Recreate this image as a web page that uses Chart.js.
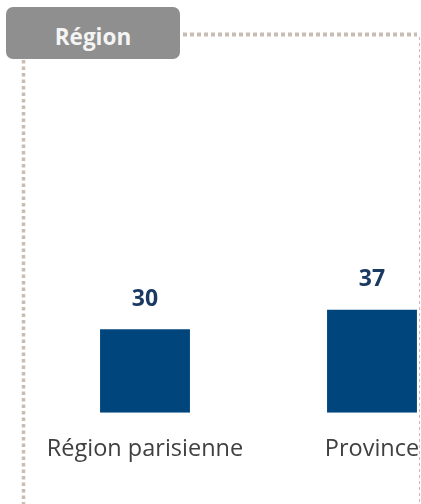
<!DOCTYPE html>
<html>
<head>
<meta charset="utf-8">
<script src="https://cdn.jsdelivr.net/npm/chart.js@4/dist/chart.umd.min.js"></script>
<style>
  html, body { margin: 0; padding: 0; background: #ffffff; }
  #wrap { position: relative; width: 421px; height: 504px; overflow: hidden; }
  #chartBox { position: absolute; left: 0; top: 0; width: 500px; height: 504px; }
  #frame { position: absolute; left: 0; top: 0; }
  #header {
    position: absolute; left: 6px; top: 7px; width: 174px; height: 52px;
    background: #8f8f8f; border-radius: 7px; overflow: hidden;
    color: #f4f4f4; font-family: "Open Sans", sans-serif; font-weight: bold;
    font-size: 22.5px; line-height: 59px; text-align: center;
  }
</style>
</head>
<body>
<div id="wrap">
  <div id="chartBox"><canvas id="c" width="500" height="504"></canvas></div>
  <svg id="frame" width="421" height="504">
    <line x1="183" y1="34.5" x2="417" y2="34.5" stroke="#c8bcb3" stroke-width="4" stroke-dasharray="4 3"/>
    <line x1="419.5" y1="37" x2="419.5" y2="504" stroke="#c8bcb3" stroke-width="1" stroke-dasharray="3 3"/>
    <line x1="23.5" y1="60" x2="23.5" y2="504" stroke="#c8bcb3" stroke-width="3.5" stroke-dasharray="3.5 3"/>
  </svg>
  <div id="header">Région</div>
</div>
<script>
const categories = ["Région parisienne", "Province"];
const values = [30, 37];
const yMin = 0;
const yMax = 100;

const valueLabels = {
  id: 'valueLabels',
  afterDatasetsDraw(chart) {
    const ctx = chart.ctx;
    const meta = chart.getDatasetMeta(0);
    ctx.save();
    ctx.font = 'bold 23px "Open Sans", sans-serif';
    ctx.fillStyle = '#1b3a63';
    ctx.textAlign = 'center';
    ctx.textBaseline = 'middle';
    meta.data.forEach((bar, i) => {
      ctx.fillText(String(chart.data.datasets[0].data[i]), bar.x, bar.y - 30);
    });
    ctx.restore();
  }
};

new Chart(document.getElementById('c'), {
  type: 'bar',
  data: {
    labels: categories,
    datasets: [{
      data: values,
      backgroundColor: '#00467d',
      borderWidth: 0,
      barPercentage: 0.396,
      categoryPercentage: 1.0
    }]
  },
  options: {
    responsive: false,
    animation: false,
    devicePixelRatio: 1,
    layout: { padding: { left: 31.5, right: 14.5, top: 134.5, bottom: 19 } },
    plugins: { legend: { display: false }, tooltip: { enabled: false } },
    scales: {
      x: {
        grid: { display: false, drawTicks: false },
        border: { display: false },
        ticks: {
          color: '#404040',
          font: { family: '"Open Sans", sans-serif', size: 23.5 },
          padding: 22,
          maxRotation: 0,
          autoSkip: false
        }
      },
      y: {
        display: false,
        min: yMin,
        max: yMax
      }
    }
  },
  plugins: [valueLabels]
});
</script>
</body>
</html>
